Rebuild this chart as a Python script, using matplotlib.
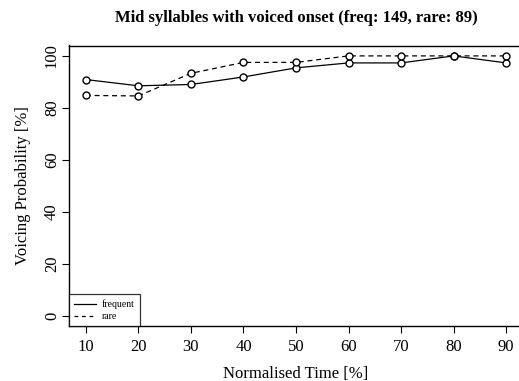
import matplotlib
matplotlib.use("Agg")
import matplotlib.pyplot as plt

time_pct = [10, 20, 30, 40, 50, 60, 70, 80, 90]
frequent = [90.9, 88.5, 89.0, 91.9, 95.4, 97.3, 97.3, 100.0, 97.3]
rare = [84.8, 84.6, 93.3, 97.5, 97.5, 100.0, 100.0, 100.0, 100.0]
y_ticks = [0, 20, 40, 60, 80, 100]
x_ticks = [10, 20, 30, 40, 50, 60, 70, 80, 90]

plt.rcParams['font.family'] = ['Liberation Serif', 'DejaVu Serif']

W, H = 519, 381
fig = plt.figure(figsize=(W / 100, H / 100), dpi=100)
left, right, top, bottom = 69, 523, 45.5, 326.3
ax = fig.add_axes([left / W, 1 - bottom / H, (right - left) / W, (bottom - top) / H])

mk = dict(marker='o', markersize=5, markerfacecolor='white', markeredgecolor='black',
          markeredgewidth=1.0, color='black', linewidth=0.9)
ax.plot(time_pct, frequent, linestyle='-', label='frequent', **mk)
ax.plot(time_pct, rare, linestyle=(0, (4, 3)), label='rare', **mk)

ax.set_xlim(6.8, 93.2)
ax.set_ylim(-4, 104)
ax.set_xticks(x_ticks)
ax.set_yticks(y_ticks)
ax.set_yticklabels([str(v) for v in y_ticks], rotation=90, va='center')
ax.tick_params(direction='out', length=5, width=0.8, labelsize=12)
ax.tick_params(axis='x', pad=4)
ax.tick_params(axis='y', pad=1.5)
for s in ax.spines.values():
    s.set_linewidth(1.0)

ax.set_xlabel('Normalised Time [%]', fontsize=12, labelpad=8)
ax.set_ylabel('Voicing Probability [%]', fontsize=12, labelpad=9)
fig.text(296 / W, 1 - 18 / H, 'Mid syllables with voiced onset (freq: 149, rare: 89)',
         ha='center', va='center', fontsize=12, fontweight='bold')

h1, = ax.plot([], [], color='black', linestyle='-', linewidth=0.9)
h2, = ax.plot([], [], color='black', linestyle=(0, (3, 3)), linewidth=0.9)
leg = ax.legend([h1, h2], ['frequent', 'rare'], loc='lower left', bbox_to_anchor=(0, 0),
                fontsize=7, frameon=True, fancybox=False, borderaxespad=0,
                handlelength=2.2, handletextpad=0.6, borderpad=0.55, labelspacing=0.3)
leg.get_frame().set_edgecolor('black')
leg.get_frame().set_linewidth(0.9)

fig.savefig('out.png', dpi=100)
